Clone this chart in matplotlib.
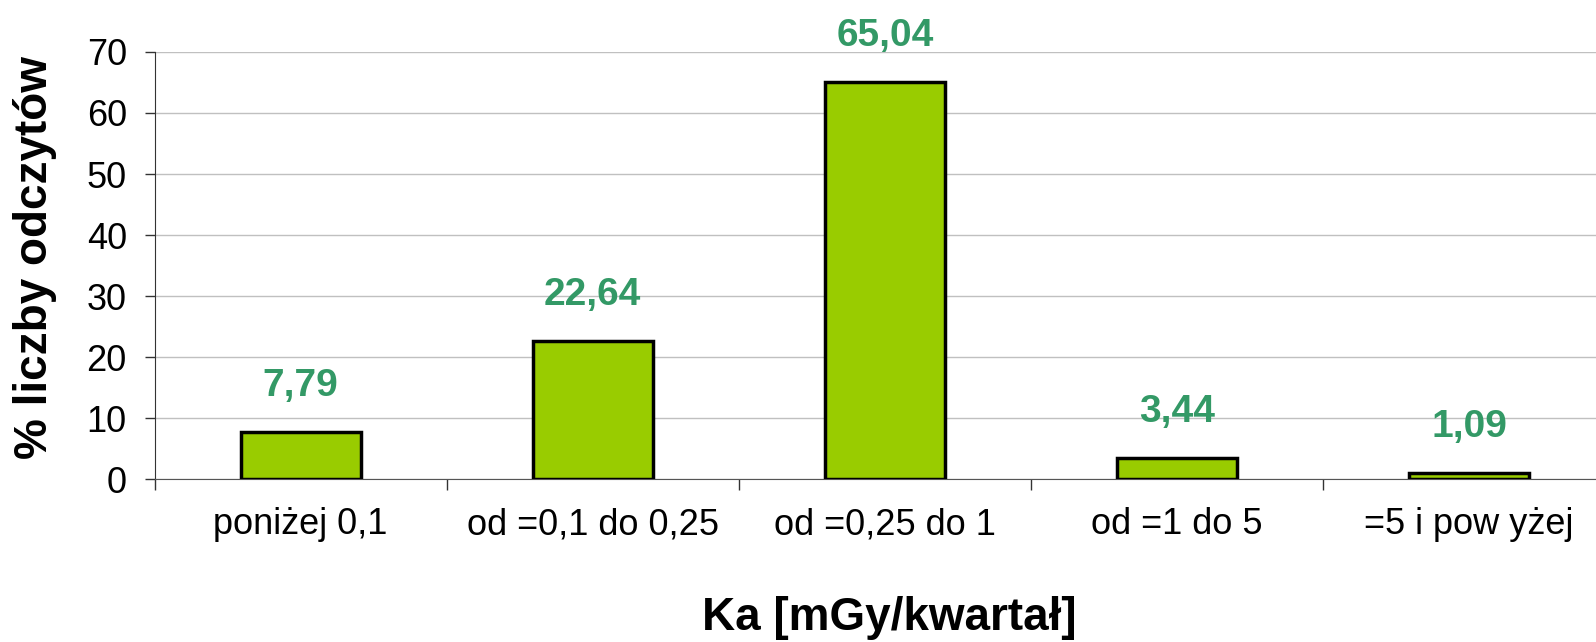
import matplotlib.pyplot as plt
from matplotlib.ticker import MultipleLocator, FixedLocator

plt.rcParams["font.family"] = ["Liberation Sans", "DejaVu Sans"]

categories = ["poniżej 0,1", "od =0,1 do 0,25", "od =0,25 do 1", "od =1 do 5", "=5 i pow yżej"]
values = [7.79, 22.64, 65.04, 3.44, 1.09]
labels = ["7,79", "22,64", "65,04", "3,44", "1,09"]

fig = plt.figure(figsize=(15.96, 6.42), dpi=100)
ax = fig.add_axes([0.0969, 0.2533, 0.915, 0.6659])

x = range(len(categories))
ax.bar(x, values, width=0.41, color="#99cc00", edgecolor="black", linewidth=2.5, zorder=3)

# value labels above bars
for xi, v, lab in zip(x, values, labels):
    ax.annotate(lab, (xi, v), xytext=(0, 26), textcoords="offset points",
                ha="center", va="baseline", fontsize=28, fontweight="bold", color="#339966")

ax.set_xlim(-0.5, len(categories) - 0.5)
ax.set_ylim(0, 70)
ax.yaxis.set_major_locator(MultipleLocator(10))
ax.xaxis.set_major_locator(FixedLocator([i - 0.5 for i in range(len(categories) + 1)]))
ax.xaxis.set_minor_locator(FixedLocator(list(x)))
ax.set_xticklabels([])
ax.set_xticklabels(categories, minor=True)
ax.tick_params(axis="x", which="major", direction="out", length=8, width=1, color="#333333")
ax.tick_params(axis="x", which="minor", length=0, pad=20, labelsize=26)
ax.tick_params(axis="y", direction="out", length=7, width=1, color="#333333", labelsize=26, pad=13)

ax.grid(axis="y", color="#c0c0c0", linewidth=1, zorder=0)
ax.set_axisbelow(True)
for s in ["top", "right"]:
    ax.spines[s].set_visible(False)
ax.spines["left"].set_color("#333333")
ax.spines["bottom"].set_color("#555555")

fig.text(0.557, 0.037, "Ka [mGy/kwartał]", ha="center", va="center", fontsize=33, fontweight="bold")
fig.text(0.022, 0.599, "% liczby odczytów", ha="center", va="center", rotation=90,
         fontsize=33, fontweight="bold")

fig.savefig("out.png", dpi=100)
